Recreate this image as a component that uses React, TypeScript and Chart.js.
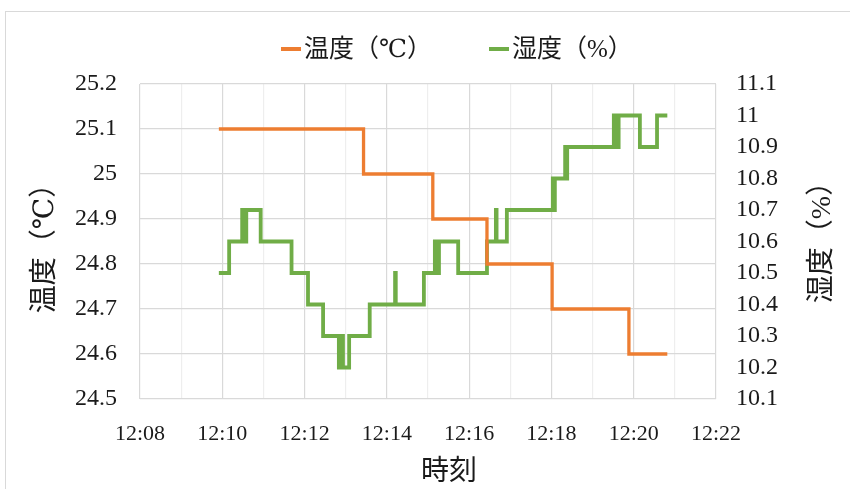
import React, { useEffect, useRef } from "react";
import { Chart, registerables } from "chart.js";

Chart.register(...registerables);

// ---- data ----
const tempTimes = ["12:09:55", "12:13:26", "12:15:07", "12:16:26", "12:18:01", "12:19:53", "12:20:49"];
const tempValues = [25.1, 25.0, 24.9, 24.8, 24.7, 24.6, 24.6];

const humTimes = [
  "12:09:55", "12:10:10", "12:10:29", "12:10:30", "12:10:32", "12:10:33", "12:10:35",
  "12:10:56", "12:11:41", "12:12:05", "12:12:27", "12:12:50", "12:12:51", "12:12:53",
  "12:12:54", "12:12:56", "12:13:05", "12:13:35", "12:14:12", "12:14:13", "12:14:54",
  "12:15:10", "12:15:11", "12:15:13", "12:15:14", "12:15:16", "12:15:44", "12:16:26",
  "12:16:39", "12:16:40", "12:16:55", "12:18:02", "12:18:03", "12:18:05", "12:18:20",
  "12:18:21", "12:18:23", "12:19:31", "12:19:32", "12:19:35", "12:19:36", "12:19:38",
  "12:20:09", "12:20:34", "12:20:49",
];
const humValues = [
  10.5, 10.6, 10.7, 10.6, 10.7, 10.6, 10.7,
  10.6, 10.5, 10.4, 10.3, 10.2, 10.3, 10.2,
  10.3, 10.2, 10.3, 10.4, 10.5, 10.4, 10.5,
  10.6, 10.5, 10.6, 10.5, 10.6, 10.5, 10.6,
  10.7, 10.6, 10.7, 10.8, 10.7, 10.8, 10.9,
  10.8, 10.9, 11.0, 10.9, 11.0, 10.9, 11.0,
  10.9, 11.0, 11.0,
];

const xRange = ["12:08", "12:22"];
const tempRange = [24.5, 25.2];
const humRange = [10.1, 11.1];

const seriesNames = ["温度（℃）", "湿度（%）"];
const seriesColors = ["#ED7D31", "#70AD47"];
const xTitle = "時刻";

// ---- helpers ----
const toSec = (t: string) => {
  const p = t.split(":").map(Number);
  return p[0] * 3600 + p[1] * 60 + (p[2] || 0);
};
const fmtTime = (s: number) => {
  const h = Math.floor(s / 3600);
  const m = Math.floor((s % 3600) / 60);
  return `${h}:${String(m).padStart(2, "0")}`;
};
const fmtNum = (v: number) => String(Number(v.toFixed(1)));

const FONT = "'Liberation Serif', 'DejaVu Serif', 'Noto Sans CJK JP', serif";
const TEXT = "#1a1a1a";

export default function App() {
  const ref = useRef<HTMLCanvasElement | null>(null);

  useEffect(() => {
    if (!ref.current) return;
    let chart: Chart | null = null;
    let cancelled = false;

    const legendPlugin = {
      id: "customLegend",
      afterDraw(c: any) {
        const ctx = c.ctx;
        const area = c.chartArea;
        ctx.save();
        ctx.font = `25px ${FONT}`;
        ctx.textBaseline = "middle";
        ctx.textAlign = "left";
        const y = 49;
        const itemStep = 208;
        seriesNames.forEach((name, i) => {
          const x = area.left + 141 + i * itemStep;
          ctx.strokeStyle = seriesColors[i];
          ctx.lineWidth = 4;
          ctx.beginPath();
          ctx.moveTo(x, y);
          ctx.lineTo(x + 20, y);
          ctx.stroke();
          ctx.fillStyle = TEXT;
          ctx.fillText(name, x + 23, y + 1);
        });
        ctx.restore();
      },
    };

    const titlesPlugin = {
      id: "axisTitles",
      afterDraw(c: any) {
        const ctx = c.ctx;
        const area = c.chartArea;
        const midY = (area.top + area.bottom) / 2;
        ctx.save();
        ctx.fillStyle = TEXT;
        ctx.textAlign = "center";
        ctx.textBaseline = "middle";
        ctx.font = `28px ${FONT}`;
        // left title
        ctx.save();
        ctx.translate(c.scales.y.left + 46, midY);
        ctx.rotate(-Math.PI / 2);
        ctx.fillText(seriesNames[0], 0, 0);
        ctx.restore();
        // right title
        ctx.save();
        ctx.translate(c.scales.y1.right - 27, midY - 6);
        ctx.rotate(-Math.PI / 2);
        ctx.fillText(seriesNames[1], 0, 0);
        ctx.restore();
        // x title
        ctx.fillText(xTitle, (area.left + area.right) / 2 + 21, c.scales.x.bottom - 16);
        ctx.restore();
      },
    };

    const xMin = toSec(xRange[0]);
    const xMax = toSec(xRange[1]);

    const build = () => {
      if (cancelled || !ref.current) return;
      chart = new Chart(ref.current, {
        type: "line",
        data: {
          datasets: [
            {
              label: seriesNames[0],
              data: tempTimes.map((t, i) => ({ x: toSec(t), y: tempValues[i] })),
              borderColor: seriesColors[0],
              backgroundColor: seriesColors[0],
              borderWidth: 3.3,
              pointRadius: 0,
              stepped: "before",
              yAxisID: "y",
            },
            {
              label: seriesNames[1],
              data: humTimes.map((t, i) => ({ x: toSec(t), y: humValues[i] })),
              borderColor: seriesColors[1],
              backgroundColor: seriesColors[1],
              borderWidth: 3.8,
              pointRadius: 0,
              stepped: "before",
              yAxisID: "y1",
            },
          ],
        },
        options: {
          responsive: false,
          animation: false,
          events: [],
          layout: { padding: { top: 84, left: 0, right: 0, bottom: 0 } },
          plugins: {
            legend: { display: false },
            tooltip: { enabled: false },
          },
          scales: {
            x: {
              type: "linear",
              min: xMin,
              max: xMax,
              afterBuildTicks: (s: any) => {
                const ticks = [];
                for (let v = xMin; v <= xMax; v += 60) ticks.push({ value: v });
                s.ticks = ticks;
              },
              afterFit: (s: any) => {
                s.height = 90;
              },
              ticks: {
                autoSkip: false,
                maxRotation: 0,
                padding: 22,
                color: TEXT,
                font: { family: FONT, size: 22 },
                callback: (v: any) => ((Number(v) - xMin) % 120 === 0 ? fmtTime(Number(v)) : ""),
              },
              grid: {
                drawTicks: false,
                color: (ctx: any) =>
                  ctx.tick && (ctx.tick.value - xMin) % 120 === 0 ? "#d9d9d9" : "#eeeeee",
                lineWidth: 1.2,
              },
              border: { display: false },
              title: { display: false },
            },
            y: {
              position: "left",
              min: tempRange[0],
              max: tempRange[1],
              afterFit: (s: any) => {
                s.width = 140;
              },
              ticks: {
                stepSize: 0.1,
                autoSkip: false,
                padding: 23,
                color: TEXT,
                font: { family: FONT, size: 24 },
                callback: (v: any) => fmtNum(Number(v)),
              },
              grid: { drawTicks: false, color: "#d9d9d9", lineWidth: 1.2 },
              border: { display: false },
              title: { display: false },
            },
            y1: {
              position: "right",
              min: humRange[0],
              max: humRange[1],
              afterFit: (s: any) => {
                s.width = 134;
              },
              ticks: {
                stepSize: 0.1,
                autoSkip: false,
                padding: 20,
                color: TEXT,
                font: { family: FONT, size: 24 },
                callback: (v: any) => fmtNum(Number(v)),
              },
              grid: { display: false, drawTicks: false },
              border: { display: false },
            },
          },
        },
        plugins: [legendPlugin, titlesPlugin],
      });
    };

    const fonts: any = (document as any).fonts;
    if (fonts && fonts.load) {
      Promise.all([
        fonts.load("20px 'Liberation Serif'"),
        fonts.load("20px 'DejaVu Serif'"),
        fonts.load("20px 'Noto Sans CJK JP'", "温度時刻"),
      ])
        .catch(() => undefined)
        .then(build);
    } else {
      build();
    }

    return () => {
      cancelled = true;
      if (chart) chart.destroy();
    };
  }, []);

  return (
    <div
      style={{
        position: "fixed",
        left: 0,
        top: 0,
        width: 850,
        height: 489,
        background: "#ffffff",
        overflow: "hidden",
      }}
    >
      <div
        style={{
          position: "absolute",
          left: 5,
          top: 11,
          width: 900,
          height: 600,
          border: "1px solid #d9d9d9",
        }}
      />
      <canvas
        ref={ref}
        width={850}
        height={489}
        style={{ position: "absolute", left: 0, top: 0, width: 850, height: 489 }}
      />
    </div>
  );
}
